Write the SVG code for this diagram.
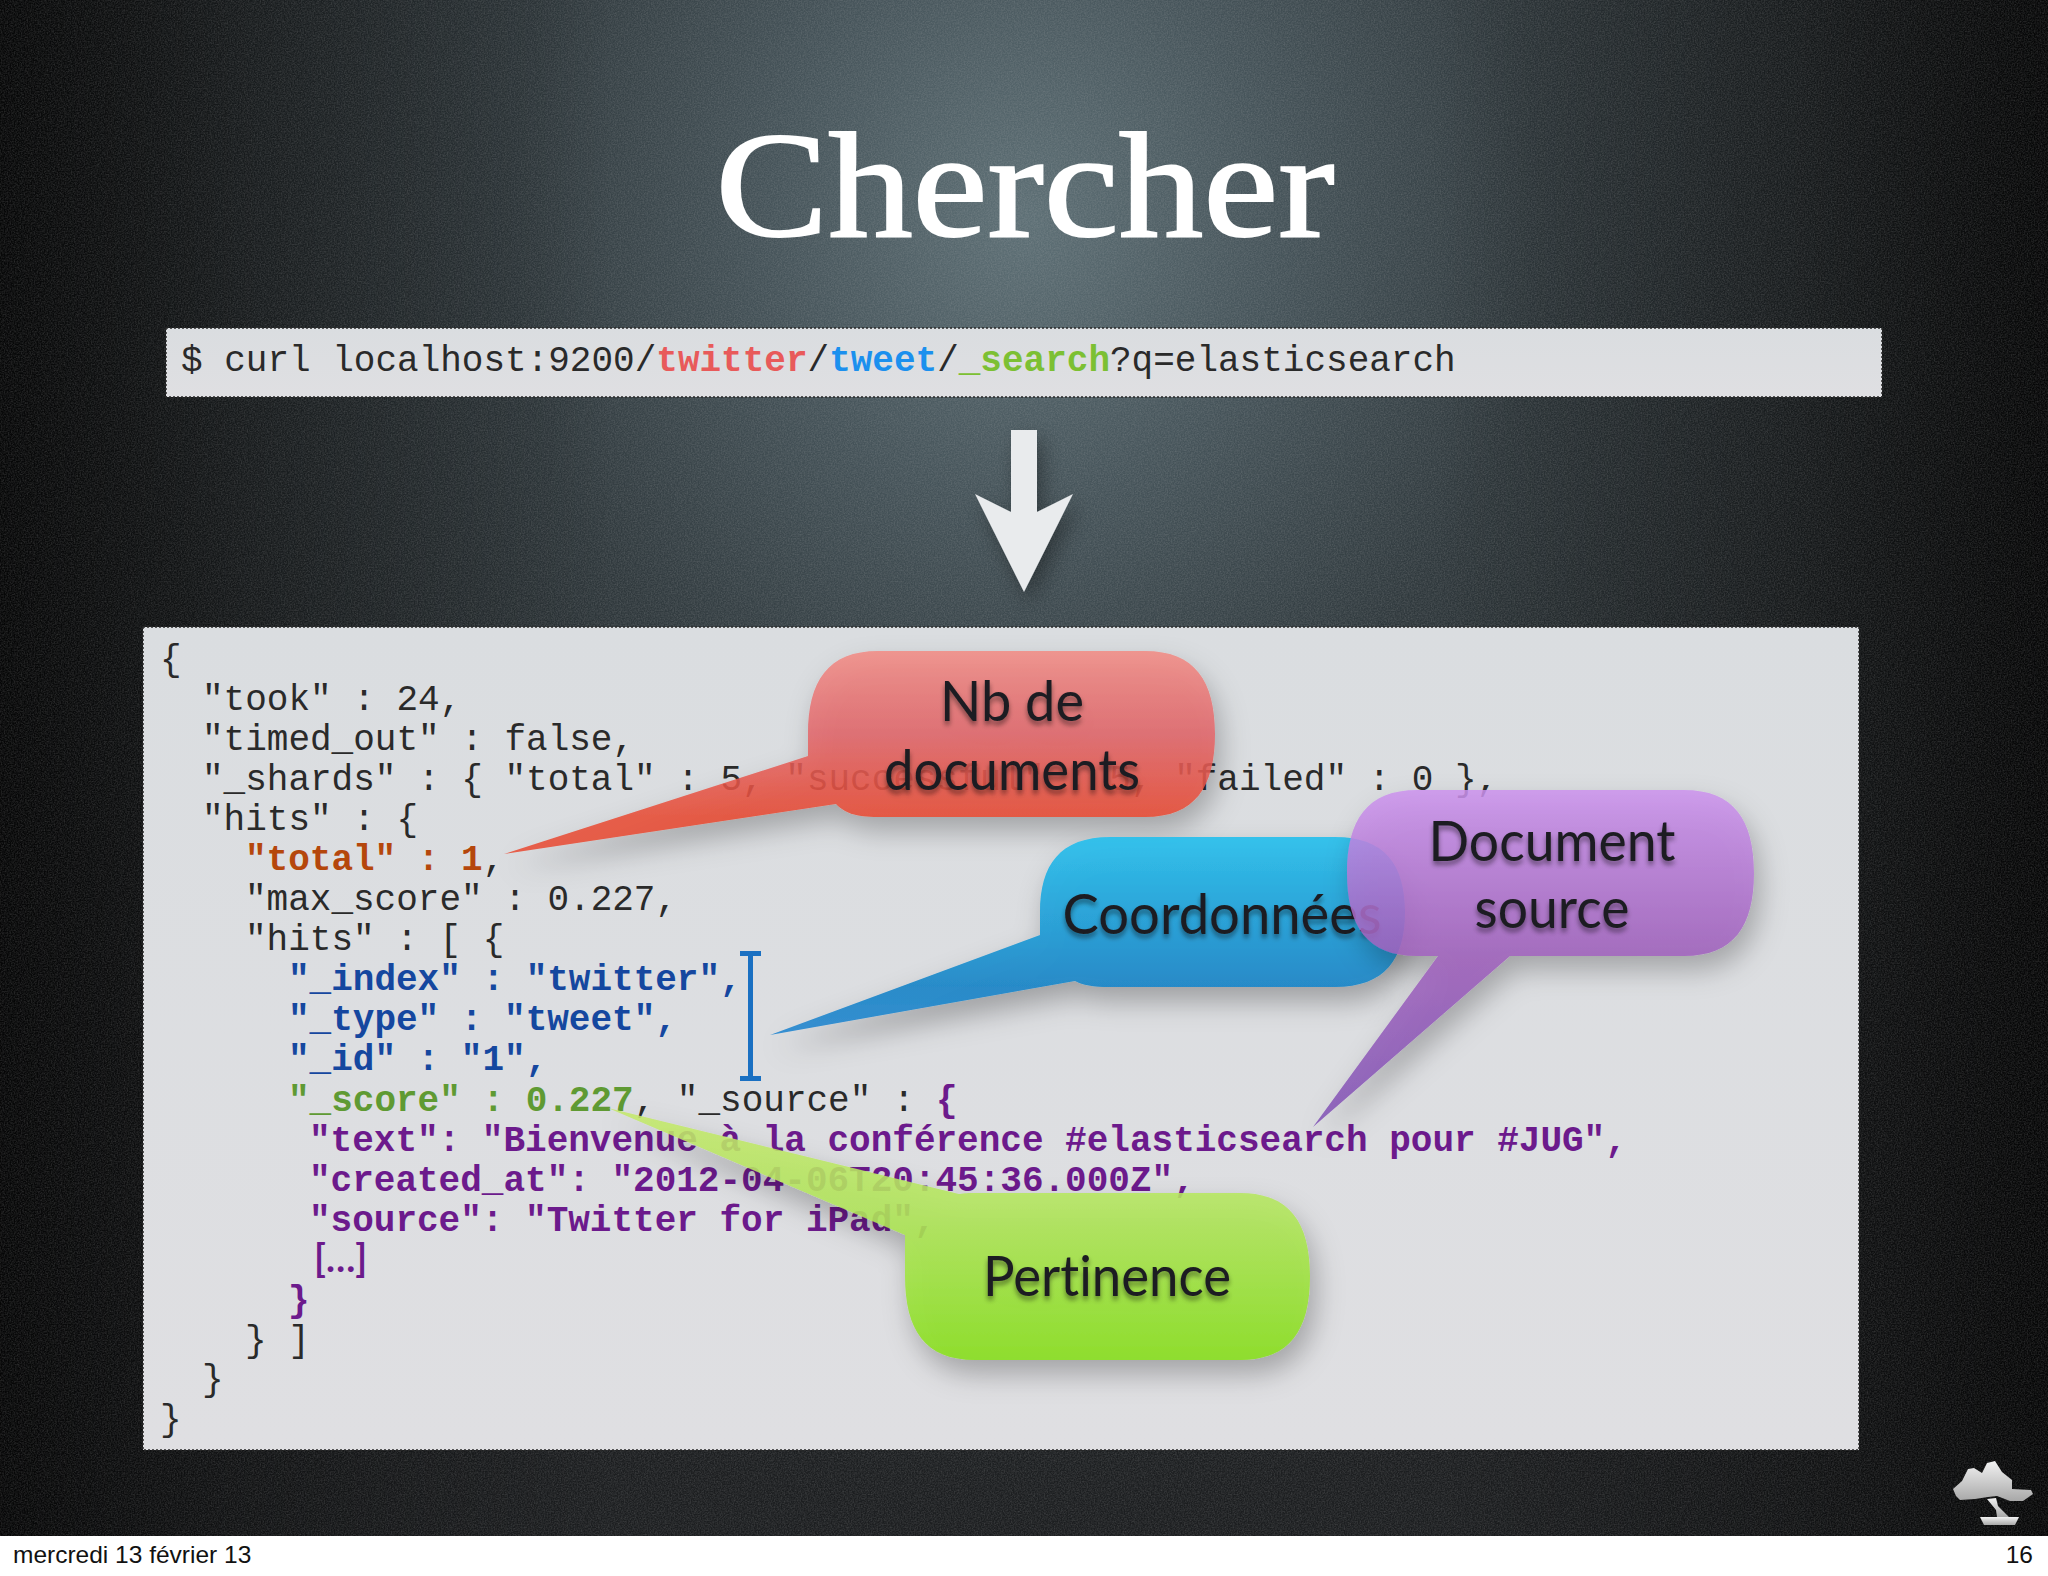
<svg xmlns="http://www.w3.org/2000/svg" width="2048" height="1576" viewBox="0 0 2048 1576">
<style>
.m{font-family:"Liberation Mono","DejaVu Sans Mono",monospace;font-size:36px;fill:#2a2a2a;white-space:pre}
.b{font-weight:700}
.o{fill:#b5470c}.bl{fill:#15479f}.g{fill:#5f9a33}.p{fill:#6c1a8c}
.c{font-family:Lato,"Open Sans",sans-serif;font-size:57px;fill:#1e1e22;text-anchor:middle;font-variant-ligatures:none}
.f{font-family:"Liberation Sans",Arial,sans-serif;font-size:24.5px;fill:#111}
.box{stroke:#2a2a2a;stroke-width:1.5;stroke-dasharray:2 2}
.callout{filter:url(#ds)}
.lab{filter:url(#ts)}
</style>
<defs>
<radialGradient id="bg" gradientUnits="userSpaceOnUse" cx="0" cy="0" r="1" gradientTransform="translate(1024 220) scale(1150 1300)">
<stop offset="0" stop-color="#5e7076"/><stop offset=".22" stop-color="#46545a"/><stop offset=".45" stop-color="#30393d"/><stop offset=".8" stop-color="#212527"/><stop offset="1" stop-color="#1c1e20"/>
</radialGradient>
<linearGradient id="vig" x1="0" y1="0" x2="1" y2="0"><stop offset="0" stop-color="#000" stop-opacity=".8"/><stop offset=".12" stop-color="#000" stop-opacity=".38"/><stop offset=".3" stop-color="#000" stop-opacity="0"/><stop offset=".7" stop-color="#000" stop-opacity="0"/><stop offset=".88" stop-color="#000" stop-opacity=".38"/><stop offset="1" stop-color="#000" stop-opacity=".8"/></linearGradient>
<linearGradient id="gbox" x1="0" y1="0" x2="0" y2="1"><stop offset="0" stop-color="#dadde0"/><stop offset="1" stop-color="#dfdfe2"/></linearGradient>
<linearGradient id="gr" gradientUnits="userSpaceOnUse" x1="0" y1="650" x2="0" y2="817"><stop offset="0" stop-color="#f28b84"/><stop offset=".5" stop-color="#e2666a"/><stop offset="1" stop-color="#e84a32"/></linearGradient>
<linearGradient id="gb" gradientUnits="userSpaceOnUse" x1="0" y1="837" x2="0" y2="1035"><stop offset="0" stop-color="#2cc0ec"/><stop offset=".75" stop-color="#2088c8"/><stop offset="1" stop-color="#2e8ad0"/></linearGradient>
<linearGradient id="gp" gradientUnits="userSpaceOnUse" x1="0" y1="790" x2="0" y2="1127"><stop offset="0" stop-color="#cc92ee"/><stop offset=".5" stop-color="#9f60bc"/><stop offset="1" stop-color="#7e50b4"/></linearGradient>
<linearGradient id="gg" gradientUnits="userSpaceOnUse" x1="0" y1="1108" x2="0" y2="1360"><stop offset="0" stop-color="#c4e86c"/><stop offset=".4" stop-color="#b2e65c"/><stop offset="1" stop-color="#88e01c"/></linearGradient>
<linearGradient id="gt" x1="0" y1="0" x2="0" y2="1"><stop offset="0" stop-color="#f2f2f2"/><stop offset="1" stop-color="#a8a8a8"/></linearGradient>
<filter id="ds" x="-30%" y="-30%" width="160%" height="170%"><feDropShadow dx="6" dy="14" stdDeviation="14" flood-color="#000" flood-opacity=".3"/></filter>
<filter id="ts" x="-10%" y="-30%" width="120%" height="170%"><feDropShadow dx="0" dy="4" stdDeviation="2.5" flood-color="#000" flood-opacity=".45"/></filter>
<filter id="as" x="-50%" y="-20%" width="220%" height="150%"><feDropShadow dx="6" dy="10" stdDeviation="10" flood-color="#000" flood-opacity=".35"/></filter>
<filter id="noise" x="0" y="0" width="100%" height="100%"><feTurbulence type="fractalNoise" baseFrequency=".7" numOctaves="2" seed="4"/><feColorMatrix values="0 0 0 0 .55 0 0 0 0 .55 0 0 0 0 .55 1.6 0 0 0 -.5"/></filter>
</defs>

<g id="background">
<rect width="2048" height="1536" fill="url(#bg)"/>
<rect width="2048" height="1536" fill="url(#vig)"/>
<rect width="2048" height="1536" filter="url(#noise)" opacity=".2"/>
<rect y="1536" width="2048" height="40" fill="#fff"/>
</g>

<text id="title" x="1025" y="236" font-family="'Liberation Serif',serif" font-size="150" fill="#fff" stroke="#fff" stroke-width="2" text-anchor="middle" textLength="619" lengthAdjust="spacingAndGlyphs">Chercher</text>

<g id="curl-box">
<rect class="box" x="166" y="328" width="1716" height="69" fill="url(#gbox)"/>
<text class="m" x="181" y="371">$ curl localhost:9200/<tspan class="b" style="fill:#e85a5a">twitter</tspan>/<tspan class="b" style="fill:#1b90ee">tweet</tspan>/<tspan class="b" style="fill:#7cc033">_search</tspan>?q=elasticsearch</text>
</g>

<g id="connectors">
<path id="big-arrow" d="M1011 430H1037V512L1073 494L1024 592L975 494L1011 512Z" fill="#e9ebed" filter="url(#as)"/>
</g>

<g id="response-box">
<rect class="box" x="143" y="627" width="1716" height="823" fill="url(#gbox)"/>
<g id="code">
<text class="m" x="160" y="670">{</text>
<text class="m" x="202" y="710">"took" : 24,</text>
<text class="m" x="202" y="750">"timed_out" : false,</text>
<text class="m" x="202" y="790">"_shards" : { "total" : 5, "successful" : 5, "failed" : 0 },</text>
<text class="m" x="202" y="830">"hits" : {</text>
<text class="m" x="245" y="870"><tspan class="b o">"total" : 1</tspan>,</text>
<text class="m" x="245" y="910">"max_score" : 0.227,</text>
<text class="m" x="245" y="950">"hits" : [ {</text>
<text class="m b bl" x="288" y="990">"_index" : "twitter",</text>
<text class="m b bl" x="288" y="1030">"_type" : "tweet",</text>
<text class="m b bl" x="288" y="1070">"_id" : "1",</text>
<text class="m" x="288" y="1111"><tspan class="b g">"_score" : 0.227</tspan>, "_source" : <tspan class="b p">{</tspan></text>
<text class="m b p" x="309" y="1151">"text": "Bienvenue à la conférence #elasticsearch pour #JUG",</text>
<text class="m b p" x="309" y="1191">"created_at": "2012-04-06T20:45:36.000Z",</text>
<text class="m b p" x="309" y="1231">"source": "Twitter for iPad",</text>
<text x="314" y="1272" font-family="Lato,sans-serif" font-size="38" font-weight="700" fill="#6c1a8c">[…]</text>
<text class="m b p" x="288" y="1311">}</text>
<text class="m" x="245" y="1351">} ]</text>
<text class="m" x="202" y="1390">}</text>
<text class="m" x="160" y="1430">}</text>
</g>
<path id="bracket" d="M740 951H761V956H753V1076H761V1081H740V1076H748V956H740Z" fill="#1a70c2"/>
</g>

<g id="callout-nb" class="callout">
<path d="M878 651H1145C1195 651 1215 681 1215 734C1215 787 1195 817 1145 817H878C855 817 845 813 836 804L504 854L808 756V734C808 681 828 651 878 651Z" fill="url(#gr)" opacity=".86"/>
<g class="lab"><text class="c" x="1012" y="721" textLength="144" lengthAdjust="spacingAndGlyphs">Nb de</text><text class="c" x="1012" y="790" textLength="256" lengthAdjust="spacingAndGlyphs">documents</text></g>
</g>

<g id="callout-coord" class="callout">
<path d="M1110 837H1335C1385 837 1405 865 1405 912C1405 959 1385 987 1335 987H1110C1092 987 1083 985 1075 981L770 1035L1040 935V912C1040 865 1060 837 1110 837Z" fill="url(#gb)" opacity=".95"/>
<g class="lab"><text class="c" x="1222" y="934" textLength="319" lengthAdjust="spacingAndGlyphs">Coordonnées</text></g>
</g>

<g id="callout-source" class="callout">
<path d="M1417 790H1684C1734 790 1754 820 1754 873C1754 926 1734 956 1684 956H1510L1313 1127L1438 956H1417C1367 956 1347 926 1347 873C1347 820 1367 790 1417 790Z" fill="url(#gp)" opacity=".85"/>
<g class="lab"><text class="c" x="1552" y="861" textLength="247" lengthAdjust="spacingAndGlyphs">Document</text><text class="c" x="1552" y="928" textLength="155" lengthAdjust="spacingAndGlyphs">source</text></g>
</g>

<g id="callout-pertinence" class="callout">
<path d="M608 1108L959 1194C965 1193 968 1193 975 1193H1240C1290 1193 1310 1223 1310 1276C1310 1330 1290 1360 1240 1360H975C925 1360 905 1330 905 1276V1235Z" fill="url(#gg)" opacity=".88"/>
<g class="lab"><text class="c" x="1107" y="1296" textLength="248" lengthAdjust="spacingAndGlyphs">Pertinence</text></g>
</g>

<g id="logo" fill="url(#gt)">
<path d="M1953 1489L1962 1481L1968 1469L1974 1468L1982 1473L1987 1463L1995 1461L2002 1472L2012 1480L2012 1489L2031 1490L2033 1494L2023 1501L2010 1501L1997 1496L1988 1497L1975 1499L1960 1500L1956 1496Z"/>
<path d="M1987 1499L1996 1498L1998 1506L2009 1517H1997L1996 1510Z"/>
<path d="M1980 1517H2019L2015 1525H1984Z"/>
</g>

<g id="footer">
<text class="f" x="13" y="1563">mercredi 13 février 13</text>
<text class="f" x="2033" y="1563" text-anchor="end">16</text>
</g>
</svg>
